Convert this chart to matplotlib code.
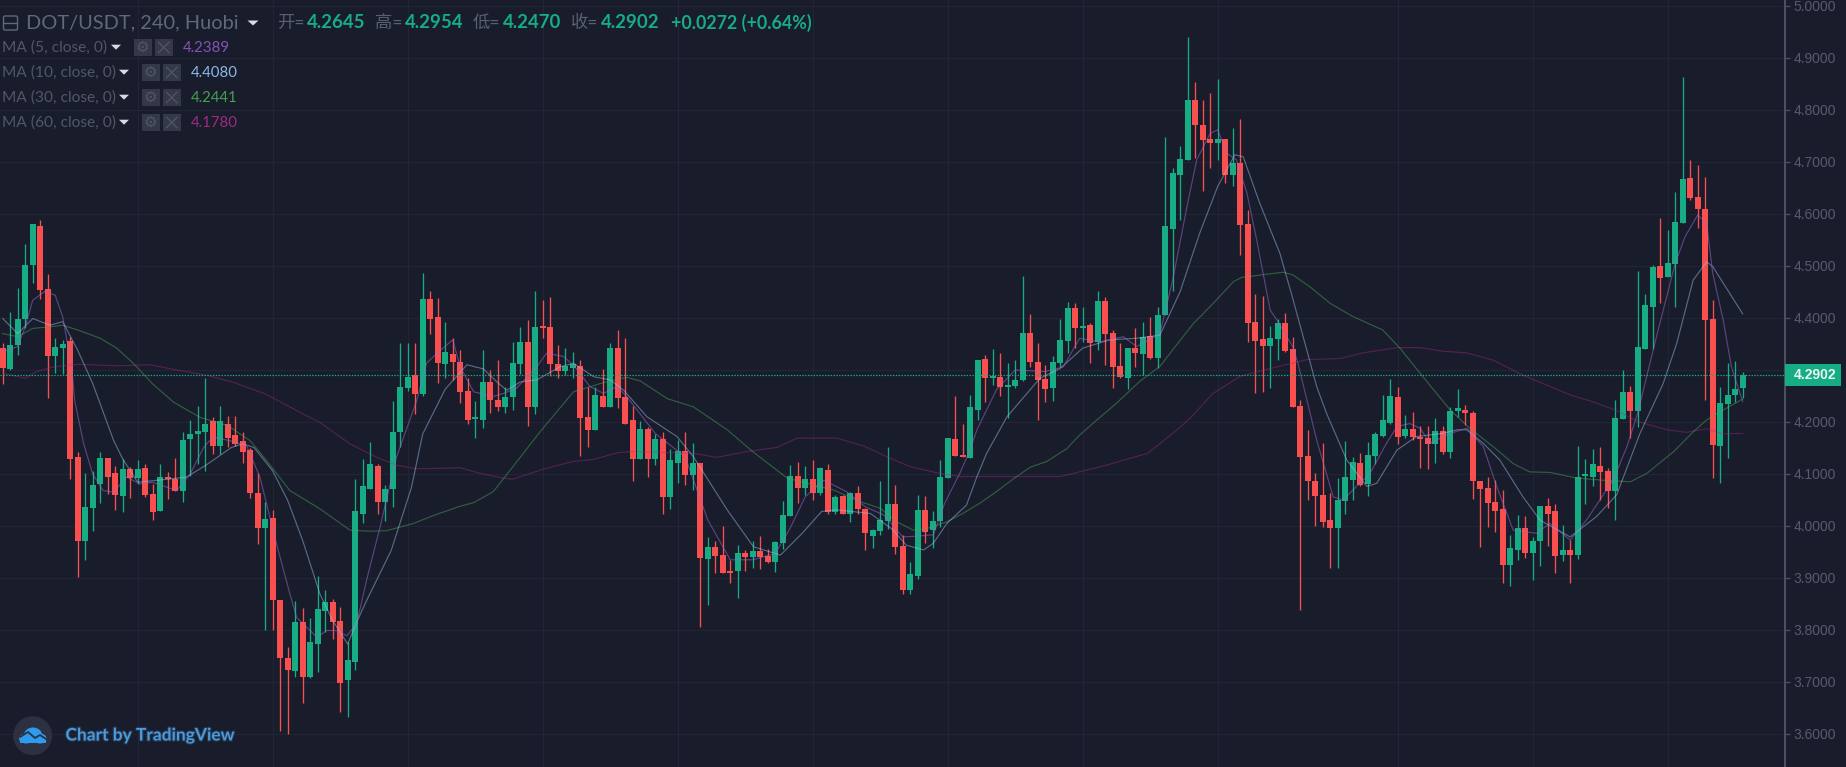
import matplotlib
matplotlib.use("Agg")
import matplotlib.pyplot as plt
from matplotlib.patches import Rectangle, Circle, Ellipse, FancyBboxPatch
import matplotlib.patheffects as pe
import numpy as np

# ---------- data ----------
opens = [4.342,4.301,4.348,4.399,4.502,4.577,4.455,4.326,4.343,4.356,4.133,3.972,4.035,4.081,4.130,4.101,4.058,4.110,4.092,4.111,
4.061,4.029,4.094,4.090,4.068,4.167,4.177,4.181,4.201,4.154,4.197,4.174,4.163,4.147,4.063,3.997,4.015,3.858,3.746,3.722,
3.815,3.709,3.774,3.837,3.853,3.817,3.704,3.738,4.024,4.071,4.116,4.046,4.071,4.180,4.265,4.290,4.253,4.436,4.402,4.311,
4.331,4.316,4.260,4.205,4.204,4.277,4.242,4.228,4.249,4.312,4.354,4.228,4.385,4.383,4.312,4.299,4.303,4.308,4.210,4.185,
4.250,4.228,4.342,4.249,4.203,4.129,4.186,4.129,4.167,4.056,4.122,4.145,4.099,4.122,3.936,3.959,3.944,3.913,3.914,3.949,
3.940,3.952,3.943,3.931,3.967,4.020,4.096,4.073,4.090,4.063,4.108,4.026,4.058,4.024,4.063,4.033,3.981,3.991,4.010,4.043,
3.962,3.876,3.904,4.031,3.992,4.009,4.093,4.168,4.137,4.130,4.223,4.322,4.285,4.286,4.268,4.269,4.280,4.371,4.315,4.282,
4.265,4.313,4.356,4.420,4.381,4.386,4.353,4.433,4.372,4.308,4.284,4.342,4.330,4.365,4.324,4.406,4.572,4.675,4.704,4.819,
4.772,4.744,4.737,4.744,4.675,4.699,4.581,4.393,4.359,4.347,4.359,4.390,4.340,4.231,4.135,4.087,4.060,4.011,3.997,4.048,
4.088,4.122,4.081,4.135,4.173,4.199,4.249,4.173,4.186,4.172,4.169,4.157,4.183,4.142,4.222,4.224,4.217,4.086,4.074,4.046,
4.032,3.925,3.954,3.996,3.949,3.971,4.038,4.029,3.944,3.954,3.944,4.096,4.095,4.115,4.106,4.068,4.206,4.258,4.222,4.340,
4.421,4.500,4.478,4.504,4.582,4.670,4.633,4.609,4.399,4.153,4.235,4.251,4.2645]
highs = [4.351,4.412,4.457,4.542,4.581,4.588,4.484,4.361,4.358,4.363,4.142,4.101,4.105,4.142,4.131,4.116,4.129,4.113,4.126,4.119,
4.081,4.119,4.103,4.131,4.181,4.203,4.231,4.285,4.209,4.231,4.212,4.211,4.180,4.150,4.101,4.046,4.030,3.858,3.767,3.856,
3.842,3.824,3.903,3.877,3.860,3.844,3.776,4.090,4.129,4.161,4.119,4.078,4.241,4.351,4.351,4.351,4.487,4.451,4.439,4.393,
4.361,4.338,4.284,4.241,4.338,4.300,4.320,4.268,4.354,4.383,4.396,4.451,4.435,4.441,4.348,4.342,4.335,4.319,4.268,4.268,
4.301,4.351,4.377,4.361,4.231,4.201,4.191,4.177,4.181,4.149,4.165,4.180,4.159,4.122,3.978,3.972,4.000,3.935,3.964,3.954,
3.972,3.981,3.955,3.972,4.049,4.117,4.124,4.115,4.127,4.114,4.120,4.059,4.060,4.066,4.077,4.034,3.995,4.087,4.151,4.079,
3.983,3.930,4.060,4.057,4.028,4.126,4.170,4.250,4.197,4.252,4.320,4.329,4.340,4.332,4.313,4.319,4.481,4.407,4.351,4.310,
4.326,4.399,4.431,4.428,4.422,4.390,4.451,4.441,4.377,4.351,4.342,4.380,4.393,4.401,4.421,4.749,4.688,4.730,4.940,4.853,
4.819,4.833,4.859,4.744,4.766,4.782,4.608,4.446,4.442,4.385,4.399,4.409,4.364,4.242,4.185,4.102,4.159,4.063,4.092,4.164,
4.133,4.140,4.162,4.181,4.251,4.282,4.268,4.213,4.220,4.192,4.192,4.207,4.192,4.229,4.263,4.233,4.222,4.086,4.095,4.088,
4.070,3.983,4.021,4.019,3.979,4.038,4.053,4.042,4.002,3.974,4.153,4.128,4.149,4.151,4.111,4.242,4.300,4.269,4.491,4.446,
4.501,4.593,4.569,4.643,4.863,4.704,4.694,4.671,4.435,4.268,4.313,4.318,4.2954]
lows = [4.274,4.300,4.329,4.380,4.468,4.436,4.246,4.294,4.293,4.090,3.901,3.935,3.990,4.044,4.062,4.030,4.026,4.053,4.081,4.055,
4.012,4.029,4.052,4.068,4.046,4.097,4.119,4.106,4.138,4.138,4.151,4.154,4.121,4.054,3.965,3.800,3.800,3.605,3.600,3.709,
3.660,3.707,3.719,3.796,3.783,3.642,3.632,3.724,4.005,4.071,4.024,4.010,4.036,4.151,4.260,4.215,4.250,4.369,4.275,4.285,
4.280,4.236,4.196,4.170,4.188,4.217,4.222,4.217,4.223,4.292,4.192,4.215,4.361,4.288,4.284,4.290,4.284,4.135,4.151,4.185,
4.228,4.228,4.226,4.197,4.087,4.129,4.094,4.117,4.023,4.032,4.083,4.079,4.070,3.805,3.848,3.909,3.909,3.890,3.861,3.914,
3.919,3.917,3.929,3.912,3.955,4.020,4.045,4.060,4.050,4.060,4.024,4.024,4.023,4.008,4.024,3.953,3.957,3.983,3.995,3.946,
3.869,3.869,3.898,3.967,3.957,3.999,4.093,4.135,4.132,4.130,4.204,4.239,4.271,4.250,4.207,4.265,4.278,4.306,4.203,4.239,
4.240,4.306,4.332,4.342,4.354,4.313,4.339,4.310,4.265,4.284,4.263,4.306,4.290,4.322,4.303,4.406,4.451,4.589,4.704,4.707,
4.644,4.689,4.704,4.659,4.653,4.522,4.353,4.255,4.257,4.265,4.319,4.335,4.229,3.839,4.050,4.000,3.999,3.919,3.920,4.024,
4.050,4.076,4.058,4.120,4.172,4.196,4.158,4.169,4.165,4.112,4.109,4.122,4.139,4.130,4.210,4.194,4.051,3.960,3.999,3.989,
3.890,3.885,3.935,3.938,3.897,3.923,3.961,3.910,3.933,3.891,3.936,4.042,4.076,4.050,4.034,4.012,4.205,4.169,4.191,4.340,
4.340,4.429,4.478,4.422,4.582,4.627,4.573,4.242,4.092,4.082,4.130,4.239,4.2470]
closes = [4.303,4.348,4.399,4.502,4.581,4.454,4.327,4.345,4.350,4.129,3.972,4.036,4.079,4.130,4.095,4.060,4.110,4.092,4.110,4.060,
4.026,4.094,4.090,4.068,4.166,4.177,4.183,4.197,4.154,4.201,4.169,4.158,4.142,4.063,3.997,4.014,3.858,3.746,3.724,3.815,
3.709,3.776,3.840,3.853,3.815,3.699,3.742,4.029,4.076,4.119,4.046,4.072,4.180,4.267,4.286,4.254,4.436,4.399,4.313,4.335,
4.316,4.258,4.204,4.209,4.277,4.242,4.228,4.249,4.313,4.354,4.228,4.383,4.381,4.312,4.299,4.308,4.312,4.207,4.185,4.251,
4.228,4.342,4.246,4.197,4.128,4.186,4.129,4.167,4.056,4.126,4.145,4.099,4.122,3.938,3.959,3.942,3.909,3.909,3.949,3.940,
3.952,3.940,3.931,3.969,4.021,4.096,4.074,4.090,4.064,4.111,4.026,4.055,4.024,4.063,4.032,3.986,3.992,4.011,4.043,3.959,
3.876,3.908,4.031,3.988,4.009,4.094,4.169,4.135,4.133,4.228,4.320,4.284,4.289,4.268,4.270,4.281,4.371,4.315,4.280,4.263,
4.315,4.358,4.420,4.380,4.385,4.351,4.433,4.369,4.305,4.287,4.342,4.332,4.364,4.324,4.406,4.576,4.678,4.705,4.819,4.771,
4.742,4.737,4.744,4.674,4.699,4.579,4.390,4.356,4.347,4.361,4.390,4.337,4.229,4.133,4.087,4.058,4.008,3.996,4.050,4.094,
4.124,4.079,4.137,4.176,4.203,4.250,4.172,4.186,4.172,4.167,4.157,4.183,4.143,4.222,4.224,4.217,4.087,4.072,4.044,4.029,
3.925,3.958,3.996,3.949,3.971,4.038,4.024,3.942,3.954,3.944,4.094,4.099,4.119,4.104,4.068,4.207,4.257,4.222,4.345,4.424,
4.499,4.477,4.505,4.585,4.667,4.631,4.610,4.396,4.155,4.236,4.252,4.264,4.2902]

ma5_idx = [0,2,3,4,5.6,7,8,9.2,9.6,10.8,12,13.4,14.8,16.5,18.3,20,23.2,25,26.8,28,30.3,32.5,34.3,36.5,38.3,39.2,41.9,43.2,44.5,45.9,47.2,48.5,50.3,52.5,55.2,56.5,57.9,60,61,62.8,65.4,66.8,68.5,71.2,72.5,74.8,76.3,78.3,80.1,81.9,83.2,87,91,94,97,100,103,105,107,109.5,112.5,115,117.5,120,121.4,124.1,125.6,127.6,128.8,129.9,132.5,135,139,141.4,143.6,146.3,149.4,151.2,154.3,156,157.9,159.2,161,162,163.2,164.5,165.9,167.2,169,169.9,172,172.7,175.2,177.4,178.7,180.5,182.3,184.5,185.9,187.6,189,190.3,193,195.2,197.4,199.2,201.4,204.5,206.3,209,211.2,214.7,216.5,218,220.5,223,224.3,226,227.2,228,229.4,230.5,232]
ma5_val = [4.335,4.345,4.383,4.434,4.451,4.444,4.402,4.306,4.241,4.158,4.100,4.068,4.065,4.094,4.081,4.084,4.068,4.100,4.151,4.171,4.164,4.155,4.094,3.966,3.869,3.824,3.786,3.799,3.799,3.789,3.812,3.895,3.997,4.132,4.241,4.313,4.332,4.358,4.306,4.258,4.249,4.255,4.265,4.306,4.332,4.326,4.306,4.268,4.255,4.268,4.249,4.178,4.133,4.012,3.935,3.935,3.947,3.996,4.056,4.088,4.066,4.037,4.021,3.979,3.980,3.983,4.044,4.101,4.140,4.185,4.262,4.300,4.297,4.306,4.361,4.354,4.364,4.345,4.370,4.473,4.614,4.704,4.755,4.762,4.717,4.704,4.640,4.550,4.415,4.396,4.345,4.313,4.165,4.056,4.050,4.076,4.101,4.159,4.191,4.197,4.188,4.159,4.178,4.188,4.153,4.076,3.992,3.986,4.005,3.973,4.012,4.088,4.150,4.217,4.364,4.505,4.556,4.598,4.582,4.486,4.396,4.306,4.2389]

ma10_idx = [0,2,4,6.3,8,10,12,14.8,16,18,22,24.5,27,30.5,32,33.5,36,38,40,42.3,44,46,47.2,48.5,51.8,54.5,56,59,61.9,64.1,65.9,67.2,69,71.2,74.3,76.1,78.8,81,82.8,85.9,89.9,92.1,96.6,100.1,103.7,106.6,109.2,111.2,115.7,118.5,120.5,122.8,124.1,125.9,128.5,129.9,131.2,133.9,138.3,141,144,147.6,151.2,154.3,157,159.6,162,164.3,165.4,167.6,170.3,172,175.2,176.5,179.2,181.9,183.2,185.9,188.5,192,193.9,195.2,197.4,199.6,202.7,205,209,212.5,215.2,218.3,221.4,223.2,225.4,227.2,228,232]
ma10_val = [4.399,4.370,4.399,4.386,4.393,4.338,4.274,4.164,4.129,4.084,4.090,4.094,4.116,4.151,4.158,4.151,4.106,4.049,3.972,3.869,3.818,3.773,3.815,3.856,3.953,4.074,4.177,4.263,4.310,4.302,4.277,4.261,4.277,4.281,4.306,4.313,4.287,4.281,4.261,4.210,4.172,4.133,4.031,3.960,3.944,3.986,4.028,4.031,4.024,3.995,3.963,3.954,3.967,4.005,4.040,4.095,4.140,4.210,4.284,4.303,4.342,4.358,4.361,4.367,4.451,4.563,4.653,4.714,4.710,4.621,4.524,4.438,4.268,4.217,4.127,4.076,4.082,4.146,4.172,4.178,4.185,4.185,4.159,4.127,4.056,4.011,3.979,4.018,4.060,4.178,4.274,4.351,4.473,4.508,4.499,4.4080]

ma30_idx = [0,2,4,6.3,8,10,13,15.2,17.4,20,22.8,26.3,30,33,35,38.3,42.3,46.3,49,51.2,54.8,57.4,61,62.8,65.4,67.7,71.7,76.1,79.7,83.2,85,88.6,92.1,96.6,100,104.6,110.8,114.3,117,119.2,121.4,123,125.9,128,130.3,132.5,134.7,137,139.2,141.9,143.6,145.9,148.5,151.6,154.3,156.5,158.8,161.4,164.1,165.2,170.7,172,174.3,177,180,184,186.3,189.2,193,195.6,198.7,201.4,203.6,206.3,209.9,213.4,217,219.2,222.8,225.4,227.2,229.4,232]
ma30_val = [4.370,4.364,4.380,4.383,4.386,4.377,4.361,4.342,4.313,4.273,4.238,4.209,4.193,4.164,4.129,4.068,4.033,3.992,3.990,3.991,4.005,4.020,4.038,4.045,4.066,4.108,4.182,4.258,4.274,4.286,4.279,4.245,4.229,4.185,4.143,4.092,4.069,4.047,4.034,4.008,3.992,3.994,4.008,4.024,4.044,4.066,4.090,4.113,4.124,4.149,4.175,4.204,4.236,4.278,4.307,4.348,4.390,4.428,4.470,4.478,4.488,4.483,4.460,4.428,4.403,4.377,4.342,4.290,4.223,4.188,4.153,4.120,4.104,4.103,4.092,4.088,4.085,4.101,4.143,4.181,4.204,4.223,4.2441]

ma60_idx = [0,3,4.5,6.8,10,15.2,19.7,23.2,27.2,30.8,35,39.6,42.3,46.3,49.9,52.5,55.2,61,63.7,66.8,68,72,76,78.8,82,83.7,92,95.2,99.2,103.2,105.9,111.2,114.8,117.9,121,125,127.7,141,147.2,152.7,156.6,158.3,161.3,165,169.9,173.9,178.3,181.4,185.9,189,192,195.2,198.7,202.7,209,212,215.2,218,221.9,224.5,227.2,229.4,232]
ma60_val = [4.294,4.284,4.297,4.306,4.311,4.308,4.310,4.300,4.290,4.276,4.254,4.219,4.199,4.158,4.132,4.117,4.110,4.112,4.101,4.092,4.090,4.109,4.124,4.128,4.141,4.143,4.140,4.132,4.143,4.151,4.169,4.169,4.154,4.133,4.114,4.101,4.095,4.095,4.117,4.140,4.185,4.207,4.254,4.288,4.306,4.320,4.322,4.333,4.343,4.343,4.336,4.333,4.319,4.290,4.252,4.239,4.222,4.201,4.185,4.180,4.187,4.177,4.1780]

price_ticks = [3.6,3.7,3.8,3.9,4.0,4.1,4.2,4.3,4.4,4.5,4.6,4.7,4.8,4.9,5.0]
time_grid = [18,36,54,72,90,108,126,144,162,186,204,222]
last_price = 4.2902

BG = "#181c2b"; GRID = "#212535"; UP = "#17ad84"; DOWN = "#f9504f"
AXC = "#4b4f61"; LBL = "#565a6c"
MA_COL = ["#9a68cc", "#9fbfe6", "#4fa45a", "#a32a85"]
MA_TXT = ["#8653b5", "#8db8e6", "#45a04f", "#a02a80"]

W, H = 1846, 767
AX_R = 1785
fig = plt.figure(figsize=(W/100, H/100), dpi=100, facecolor=BG)
ax = fig.add_axes([0, 0, AX_R/W, 1], facecolor=BG)
ax.set_xlim(-0.36, 237.64)
ax.set_ylim(3.5365, 5.0115)

ax.set_axisbelow(True)
ax.set_yticks(price_ticks)
ax.set_yticklabels([f"{v:.4f}" for v in price_ticks], fontfamily="Liberation Sans", fontsize=10, color=LBL)
ax.yaxis.tick_right()
ax.tick_params(axis="y", length=3.5, width=1, color=AXC, pad=2.5)
ax.set_xticks(time_grid)
ax.tick_params(axis="x", length=0, labelbottom=False)
ax.grid(True, color=GRID, lw=0.8)
for s in ["left", "top", "bottom"]:
    ax.spines[s].set_visible(False)
ax.spines["right"].set_color(AXC)
ax.spines["right"].set_linewidth(1.5)

idx = np.arange(len(opens))
o, h, l, c = map(np.array, (opens, highs, lows, closes))
cols = [UP if cc >= oo else DOWN for oo, cc in zip(o, c)]
ax.vlines(idx, l, h, colors=cols, lw=0.95, zorder=3)
ax.bar(idx, np.maximum(np.abs(c - o), 0.004), bottom=np.minimum(o, c), width=0.84, color=cols, lw=0, zorder=3)

for xs, ys, col, al in [(ma60_idx, ma60_val, MA_COL[3], 0.42), (ma30_idx, ma30_val, MA_COL[2], 0.48),
                        (ma10_idx, ma10_val, MA_COL[1], 0.48), (ma5_idx, ma5_val, MA_COL[0], 0.52)]:
    ax.plot(xs, ys, color=col, lw=0.85, alpha=al, zorder=4, solid_joinstyle="round")

ax.axhline(last_price, color=UP, lw=0.85, ls=(0, (1.2, 1.2)), zorder=5)

# ---------- overlay in pixel coordinates for interface chrome ----------
ov = fig.add_axes([0, 0, 1, 1], facecolor="none", zorder=5)
ov.set_xlim(0, W); ov.set_ylim(H, 0); ov.axis("off")
SANS = ["Lato", "Noto Sans CJK SC", "DejaVu Sans"]

def T(x, y, s, col, size, weight="normal", fam=SANS, ha="left"):
    return ov.text(x, y, s, color=col, fontsize=size, fontweight=weight, family=fam, va="center", ha=ha)

def tri(x, y, w=5.5, hh=5, col="#d8dae0"):
    ov.fill([x-w, x+w, x], [y-hh/2, y-hh/2, y+hh/2], color=col, lw=0)

# price tag
ov.add_patch(Rectangle((AX_R, 364), 56, 21.7, color=UP, lw=0))
T(1794, 375, "4.2902", "#e9f6f1", 10, "bold", ["Liberation Sans"])

# header
TXT = "#626779"
ov.add_patch(FancyBboxPatch((3.5, 16), 14, 14, boxstyle="round,pad=0,rounding_size=1.5", fc="none", ec=TXT, lw=1))
ov.plot([4, 17], [23, 23], color=TXT, lw=1)
T(26, 23, "DOT/USDT, 240, Huobi", TXT, 14.4)
tri(253, 23)
seg = [(277, "开=", 307, "4.2645"), (375, "高=", 405, "4.2954"), (473, "低=", 503, "4.2470"), (571, "收=", 601, "4.2902")]
for x1, lab, x2, val in seg:
    T(x1, 23, lab, "#5a5f71", 12.5)
    T(x2, 23, val, UP, 13.4, "bold")
T(671, 23, "+0.0272 (+0.64%)", UP, 12.8, "bold")

# indicator legend
rows = [(47.7, "MA (5, close, 0)", 116, 134, 155, 183, "4.2389"),
        (72.7, "MA (10, close, 0)", 124, 142, 163, 191, "4.4080"),
        (97.7, "MA (30, close, 0)", 124, 142, 163, 191, "4.2441"),
        (122.7, "MA (60, close, 0)", 124, 142, 163, 191, "4.1780")]
for (y, lab, tx, b1, b2, vx, val), vc in zip(rows, MA_TXT):
    T(2.5, y, lab, "#515668", 11.2)
    tri(tx, y-0.5, 5, 5)
    for bx in (b1, b2):
        ov.add_patch(Rectangle((bx, y-9), 17.5, 17.5, color="#343848", lw=0))
    T(b1+8.7, y-0.3, "\u2699", "#505565", 11, fam=["DejaVu Sans"], ha="center")
    ov.plot([b2+3.5, b2+14], [y-5.5, y+5], color="#505565", lw=1)
    ov.plot([b2+3.5, b2+14], [y+5, y-5.5], color="#505565", lw=1)
    T(vx, y, val, vc, 10.8)

# TradingView badge
ov.add_patch(Circle((32.7, 735.7), 19.5, color="#2c3040", lw=0))
LOGO = "#2d9cf0"
for cx, cy, rx, ry in [(33, 735, 9, 7.5), (26, 738.5, 7, 5), (40, 738.5, 6.5, 5)]:
    ov.add_patch(Ellipse((cx, cy), 2*rx, 2*ry, color=LOGO, lw=0, zorder=2))
ov.add_patch(Rectangle((20, 738), 26, 5, color=LOGO, lw=0, zorder=2))
ov.plot([20, 28, 35, 40, 46], [737, 732, 738, 735, 739], color="#2c3040", lw=1.3, zorder=3)
tv = T(65.5, 735.5, "Chart by TradingView", "#4b9ad9", 12.5, "bold")
tv.set_path_effects([pe.withStroke(linewidth=1.6, foreground="#23344f")])

fig.savefig("out.png", dpi=100, facecolor=BG)
